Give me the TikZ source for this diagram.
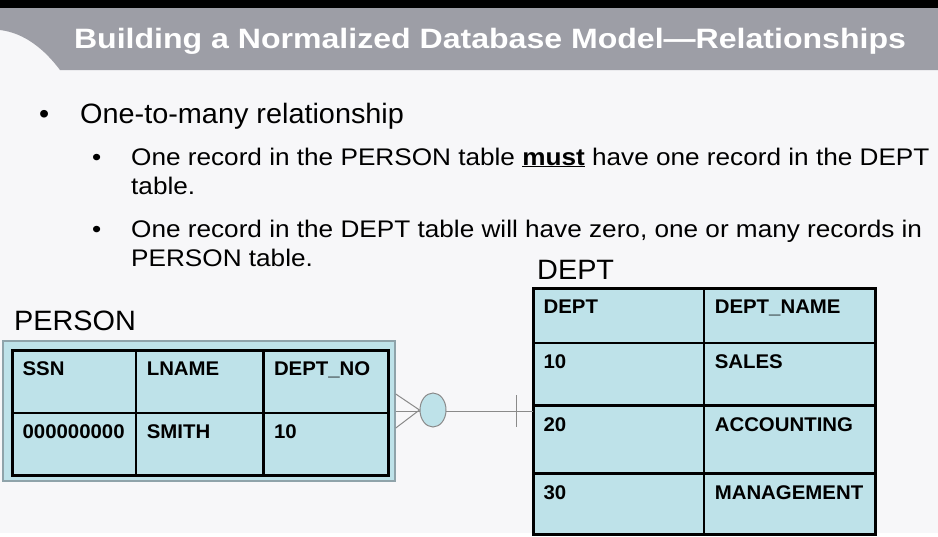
\documentclass[tikz,border=0pt]{standalone}
\usepackage{fontspec}
\setmainfont[FakeStretch=1.03]{Liberation Sans}
\newfontfamily\titlefont[FakeStretch=1.145]{Liberation Sans}
\newfontfamily\subfont[FakeStretch=1.09]{Liberation Sans}
\usetikzlibrary{shapes.geometric, positioning}

\definecolor{pagebg}{HTML}{F7F7F9}
\definecolor{barfill}{HTML}{9D9EA6}
\definecolor{cellblue}{HTML}{BEE2E9}
\definecolor{boxline}{HTML}{8FA3AA}
\definecolor{linkgray}{HTML}{8A8A8A}

\tikzset{
  title/.style={anchor=base, inner sep=0pt, text=white, font=\titlefont\bfseries\fontsize{28}{30}\selectfont},
  mainitem/.style={anchor=base west, inner sep=0pt, font=\fontsize{28}{30}\selectfont},
  subitem/.style={anchor=base west, inner sep=0pt, font=\subfont\fontsize{24}{26}\selectfont},
  tablename/.style={anchor=base west, inner sep=0pt, font=\fontsize{28}{30}\selectfont},
  outerbox/.style={rectangle, draw=boxline, line width=1.5pt, fill=cellblue, inner sep=0pt},
  cell/.style 2 args={rectangle, draw=black, line width=1.2pt, fill=cellblue, anchor=north west,
    inner xsep=10pt, inner ysep=0pt, text width=#1, text height=25pt, text depth=#2, align=left,
    font=\fontsize{19.8}{21}\selectfont\bfseries},
  tableborder/.style={draw=black, line width=3pt},
  link/.style={draw=linkgray, line width=1pt},
}

\begin{document}
\begin{tikzpicture}[x=1pt, y=-1pt]

  % page and title bar
  \fill[pagebg] (0,0) rectangle (938,533);
  \fill[black] (0,0) rectangle (938,8);
  \fill[barfill] (0,8) -- (938,8) -- (938,70) -- (60,70) .. controls (45,50) and (25,33) .. (0,30) -- cycle;
  \node[title] (title) at (490,48) {Building a Normalized Database Model—Relationships};

  % bullet text
  \node[mainitem] (dot1) at (39,123) {•};
  \node[mainitem] (onetomany) at (80,123) {One-to-many relationship};
  \node[subitem] (dot2) at (92,165) {•};
  \node[subitem] (must1) at (131,165) {One record in the PERSON table \underline{\textbf{must}} have one record in the DEPT};
  \node[subitem] (must2) at (131,194) {table.};
  \node[subitem] (dot3) at (92,237) {•};
  \node[subitem] (zero1) at (131,237) {One record in the DEPT table will have zero, one or many records in};
  \node[subitem] (zero2) at (131,266) {PERSON table.};

  % table names
  \node[tablename] (persontitle) at (14,330) {PERSON};
  \node[tablename] (depttitle) at (537,279) {DEPT};

  % PERSON table
  \node[outerbox, minimum width=392pt, minimum height=140pt] (personbox) at (199,411) {};
  \node[cell={103pt}{37pt}] (ssn) at (12,350) {SSN};
  \node[cell={106pt}{37pt}] (lname) at (ssn.north east) {LNAME};
  \node[cell={104pt}{37pt}] (deptno) at (lname.north east) {DEPT\_NO};
  \node[cell={103pt}{36pt}] (ssnval) at (ssn.south west) {000000000};
  \node[cell={106pt}{36pt}] (lnameval) at (lname.south west) {SMITH};
  \node[cell={104pt}{36pt}] (deptnoval) at (deptno.south west) {10};
  \draw[tableborder] (ssn.north west) rectangle (deptnoval.south east);

  % DEPT table
  \node[cell={150pt}{29pt}] (dept) at (533,288) {DEPT};
  \node[cell={150pt}{29pt}] (deptname) at (dept.north east) {DEPT\_NAME};
  \node[cell={150pt}{36pt}] (dept10) at (dept.south west) {10};
  \node[cell={150pt}{36pt}] (sales) at (dept10.north east) {SALES};
  \node[cell={150pt}{42pt}] (dept20) at (dept10.south west) {20};
  \node[cell={150pt}{42pt}] (accounting) at (dept20.north east) {ACCOUNTING};
  \node[cell={150pt}{35pt}] (dept30) at (dept20.south west) {30};
  \node[cell={150pt}{35pt}] (management) at (dept30.north east) {MANAGEMENT};
  \draw[tableborder] (dept.north west) rectangle (management.south east);

  % relationship: many (crow's foot), optional (circle), one (bar)
  \draw[link] (personbox.east) -- (dept20.west |- personbox.east);
  \node[ellipse, draw=linkgray, line width=1pt, fill=cellblue, minimum width=26pt, minimum height=34pt, inner sep=0pt] (optional) at (433,410) {};
  \draw[link] ([yshift=17pt]personbox.east) -- (optional.west);
  \draw[link] ([yshift=-17pt]personbox.east) -- (optional.west);
  \draw[link] (dept20.west |- personbox.east) ++(-17pt,16pt) -- ++(0,-32pt);

\end{tikzpicture}
\end{document}
